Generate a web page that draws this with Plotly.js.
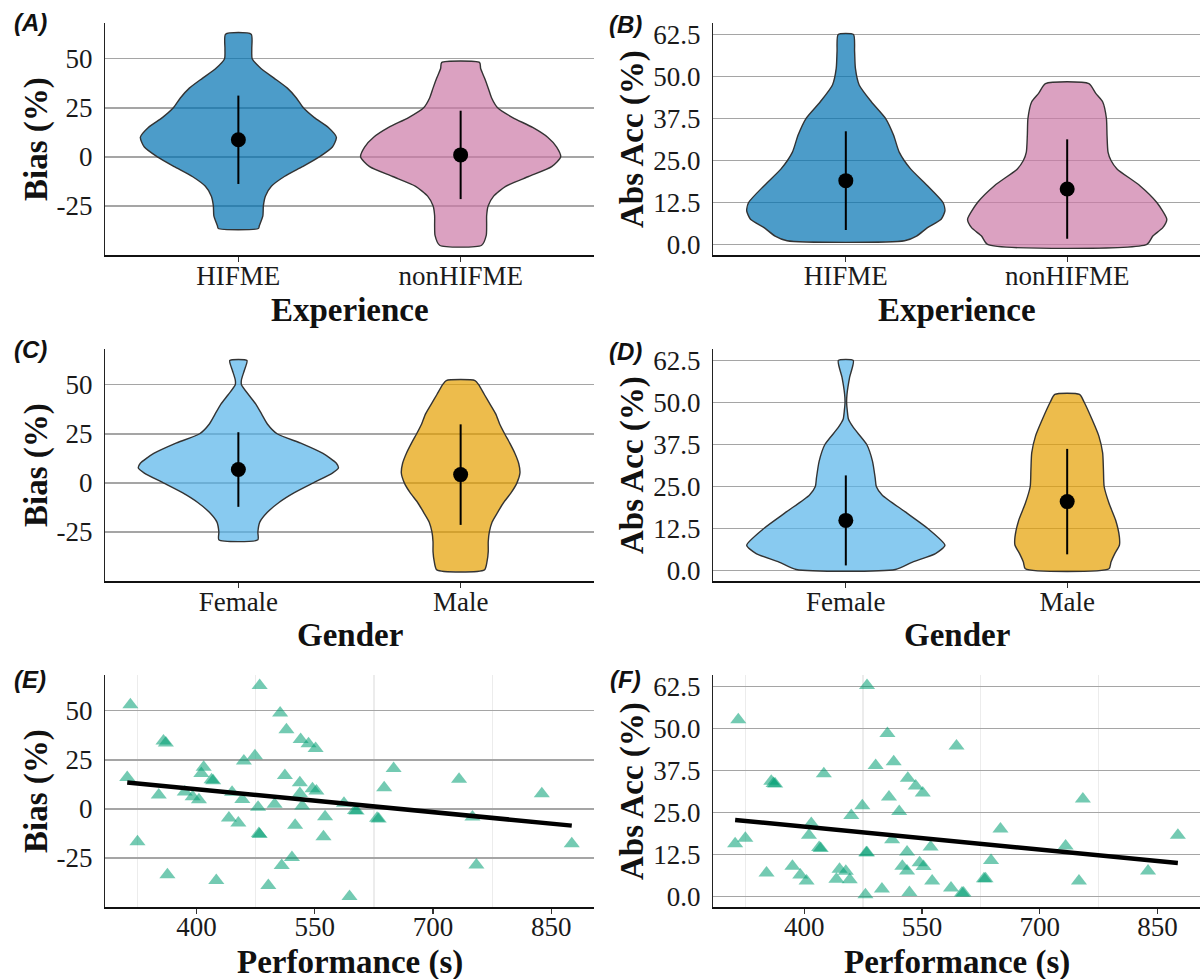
<!DOCTYPE html>
<html>
<head>
<meta charset="utf-8">
<script src="https://cdn.plot.ly/plotly-3.0.1.min.js"></script>
<style>
  html, body { margin: 0; padding: 0; background: #ffffff; }
  #chart { width: 1200px; height: 979px; }
</style>
</head>
<body>
<div id="chart"></div>
<script>
// ---- Categories ----
const experience = ['HIFME', 'nonHIFME'];
const gender = ['Female', 'Male'];

// ---- Per-participant values (panels E, F) ----
const perf = [316,312,325,352,358,361,363,385,395,403,
              406,409,419,421,425,441,445,453,458,460,
              474,478,479,480,480,491,499,506,508,512,
              514,521,525,531,531,532,534,542,547,552,
              551,561,563,587,594,601,603,629,631,638,
              650,733,750,755,838,876];
const bias = [53.0,16.0,-16.8,7.0,34.5,33.5,-33.5,8.6,6.2,4.6,
              18.0,21.2,14.8,14.3,-36.5,-4.6,8.4,-7.2,4.8,24.4,
              27.0,0.8,-12.6,-13.0,62.8,-39.0,2.3,48.8,-28.8,17.0,
              40.3,-24.8,-8.4,13.3,7.8,35.3,1.4,33.1,10.3,9.1,
              30.8,-14.2,-4.0,2.9,-44.6,-0.8,-1.1,-4.8,-5.2,10.8,
              20.5,15.1,-4.2,-28.6,7.7,-17.8];
const absAcc = [52.6,15.7,17.3,7.0,34.3,33.6,33.5,9.0,6.4,4.6,
                18.2,21.7,14.6,14.3,36.5,5.1,8.1,7.5,5.0,24.1,
                27.0,0.5,13.0,13.0,62.8,39.0,2.2,48.5,29.6,16.9,
                40.1,25.3,9.0,13.2,7.6,35.2,1.2,32.9,10.0,8.9,
                30.8,14.7,4.6,2.5,44.8,1.0,1.0,5.3,5.3,10.7,
                20.1,15.0,4.6,29.0,7.6,18.2];

// ---- Violin density profiles (value level -> relative density) ----
const hifmeBiasY    = [-36.5,-35,-30,-25,-20,-15,-10,-5,0,5,10,15,20,25,30,35,40,45,50,55,62.5];
const hifmeBiasDens = [20,21,24.5,25,27,33,46,64,81,94,98,90,76,65,58,49,36,22.6,13.8,13.4,12.8];
const nonBiasY      = [-45,-40,-35,-30,-25,-20,-15,-10,-5,0,5,10,15,20,25,30,35,40,45,48];
const nonBiasDens   = [21,25.6,26,26,27.5,33,45,68,91,100,96,87,72,52,37,31,27.6,24,20,19];

const hifmeAbsY     = [1.1,2.5,5,7.5,10,12.5,17.5,22.5,27.5,32.5,37.5,42.5,47.5,52.5,57.5,62.5];
const hifmeAbsDens  = [59,71,82,95.7,99.5,97.6,82,65,53.6,48,40,25.6,13.4,9.6,8.8,7.7];
const nonAbsY       = [0,2.5,5,7.5,12.5,17.5,22.5,25,27.5,32.5,37.5,42.5,45,47.9];
const nonAbsDens    = [80,86,96,100,90,73,50,44,41,40,39.4,35.6,28.7,21.8];

const femaleBiasY    = [-29,-25,-20,-15,-10,-5,0,5,7.5,10,15,20,25,30,35,40,45,50,52.5,57.5,62.3];
const femaleBiasDens = [19.5,19.5,21.4,29,40.6,56,75,94,100,98,84.6,63.5,38.7,29,23.3,17.6,10,3.1,3.1,6.1,8.6];
const maleBiasY      = [-44.3,-40,-35,-30,-25,-20,-15,-10,-5,0,5,10,15,20,25,30,35,40,45,50,52.1];
const maleBiasDens   = [23.8,26.4,27.6,27.6,28.7,31.4,37,43,50.5,56.3,59.3,58,54.3,49.4,44,39,35.2,29.5,23.7,18,14.4];

const femaleAbsY     = [0.3,2.5,5,7.5,12.5,17.5,22.5,25,27.5,32.5,37.5,42.5,45,47.5,50,52.5,57.5,62.5];
const femaleAbsDens  = [49.8,67,90,99.5,82.3,59.3,36.4,30.6,29.5,26.8,21,7.7,2.7,1.5,0.8,1.2,3.8,7.5];
const maleAbsY       = [0.5,2.5,5,7.5,10,15,20,25,30,35,40,45,50,52.4];
const maleAbsDens    = [42,44,47.8,52.4,52.4,48.6,42,37.1,36.4,35.6,31.8,24.9,17.2,12.4];

// ---- Group means and standard deviations ----
const biasExpMean = [8.7, 1.0];   const biasExpSd = [22.5, 22.5];
const absExpMean  = [19.0, 16.5]; const absExpSd  = [14.7, 14.8];
const biasGenMean = [6.8, 4.2];   const biasGenSd = [19.0, 25.6];
const absGenMean  = [14.9, 20.5]; const absGenSd  = [13.4, 15.7];

// ---- Tick labels ----
const biasTicks = [-25, 0, 25, 50];
const biasTickText = ['-25', '0', '25', '50'];
const absTicks = [0, 12.5, 25, 37.5, 50, 62.5];
const absTickText = ['0.0', '12.5', '25.0', '37.5', '50.0', '62.5'];
const perfTicks = [400, 550, 700, 850];

// ---- Styling ----
const W = 1200, H = 979;
const serif = 'Liberation Serif, Times New Roman, serif';
const sans = 'Liberation Sans, Arial, sans-serif';
const okabe = {
  blue: 'rgba(0,114,178,0.7)',
  purple: 'rgba(204,121,167,0.7)',
  sky: 'rgba(86,180,233,0.7)',
  orange: 'rgba(230,159,0,0.7)'
};
const pointColor = 'rgba(0,158,115,0.55)';
const densToWidth = 0.0045;   // category units per density unit

const px = v => v / W;
const py = v => 1 - v / H;

const colL = [px(105), px(594)];
const colR = [px(713), 1];
const rows = [[py(255), py(23)], [py(581), py(349)], [py(907), py(675)]];

function violin(center, ys, dens, fill, xa, ya) {
  const xs = [], yy = [];
  for (let i = 0; i < ys.length; i++) { xs.push(center + dens[i] * densToWidth); yy.push(ys[i]); }
  for (let i = ys.length - 1; i >= 0; i--) { xs.push(center - dens[i] * densToWidth); yy.push(ys[i]); }
  xs.push(xs[0]); yy.push(yy[0]);
  return {
    type: 'scatter', mode: 'lines', x: xs, y: yy, xaxis: xa, yaxis: ya,
    fill: 'toself', fillcolor: fill,
    line: { color: '#333333', width: 1.4, shape: 'spline', smoothing: 0.6 },
    hoverinfo: 'skip', showlegend: false
  };
}

function meanSd(means, sds, xa, ya) {
  return {
    type: 'scatter', mode: 'markers', x: [1, 2], y: means, xaxis: xa, yaxis: ya,
    marker: { color: 'black', size: 15 },
    error_y: { type: 'data', array: sds, visible: true, color: 'black', thickness: 2, width: 0 },
    showlegend: false
  };
}

function fitLine(xs, ys, xa, ya) {
  const n = xs.length;
  const mx = xs.reduce((a, b) => a + b, 0) / n;
  const my = ys.reduce((a, b) => a + b, 0) / n;
  let sxy = 0, sxx = 0;
  for (let i = 0; i < n; i++) { sxy += (xs[i] - mx) * (ys[i] - my); sxx += (xs[i] - mx) ** 2; }
  const b = sxy / sxx, a = my - b * mx;
  const x0 = Math.min(...xs), x1 = Math.max(...xs);
  return {
    type: 'scatter', mode: 'lines', x: [x0, x1], y: [a + b * x0, a + b * x1],
    xaxis: xa, yaxis: ya, line: { color: 'black', width: 4.5 }, showlegend: false
  };
}

function scatterPts(xs, ys, xa, ya) {
  return {
    type: 'scatter', mode: 'markers', x: xs, y: ys, xaxis: xa, yaxis: ya,
    marker: { symbol: 'triangle-up', size: 14, color: pointColor, line: { width: 0 } },
    showlegend: false
  };
}

const traces = [
  // (A)
  violin(1, hifmeBiasY, hifmeBiasDens, okabe.blue, 'x', 'y'),
  violin(2, nonBiasY, nonBiasDens, okabe.purple, 'x', 'y'),
  meanSd(biasExpMean, biasExpSd, 'x', 'y'),
  // (B)
  violin(1, hifmeAbsY, hifmeAbsDens, okabe.blue, 'x2', 'y2'),
  violin(2, nonAbsY, nonAbsDens, okabe.purple, 'x2', 'y2'),
  meanSd(absExpMean, absExpSd, 'x2', 'y2'),
  // (C)
  violin(1, femaleBiasY, femaleBiasDens, okabe.sky, 'x3', 'y3'),
  violin(2, maleBiasY, maleBiasDens, okabe.orange, 'x3', 'y3'),
  meanSd(biasGenMean, biasGenSd, 'x3', 'y3'),
  // (D)
  violin(1, femaleAbsY, femaleAbsDens, okabe.sky, 'x4', 'y4'),
  violin(2, maleAbsY, maleAbsDens, okabe.orange, 'x4', 'y4'),
  meanSd(absGenMean, absGenSd, 'x4', 'y4'),
  // (E)
  scatterPts(perf, bias, 'x5', 'y5'),
  fitLine(perf, bias, 'x5', 'y5'),
  // (F)
  scatterPts(perf, absAcc, 'x6', 'y6'),
  fitLine(perf, absAcc, 'x6', 'y6')
];

const tickFont = { family: serif, size: 27, color: '#1a1a1a' };

function catAxis(domain, anchor, labels) {
  return {
    domain: domain, anchor: anchor, type: 'linear', range: [0.4, 2.6],
    tickvals: [1, 2], ticktext: labels, ticks: 'outside', ticklen: 5, tickwidth: 1.2,
    tickcolor: '#333333', showline: true, linecolor: '#111111', linewidth: 2,
    showgrid: false, zeroline: false, tickfont: tickFont, ticklabelstandoff: -9
  };
}

function perfAxis(domain, anchor) {
  return {
    domain: domain, anchor: anchor, type: 'linear', range: [283.8, 904.2],
    tickvals: perfTicks, ticktext: perfTicks.map(String), ticks: 'outside', ticklen: 5, tickwidth: 1.2,
    tickcolor: '#333333', showline: true, linecolor: '#111111', linewidth: 2,
    showgrid: false, zeroline: false, tickfont: tickFont, ticklabelstandoff: -10,
    minor: { tick0: 325, dtick: 150, showgrid: true, gridcolor: '#ececec', gridwidth: 1.2, ticks: '' }
  };
}

function valAxis(domain, anchor, range, vals, text) {
  return {
    domain: domain, anchor: anchor, range: range, tickvals: vals, ticktext: text,
    ticks: '', showline: true, linecolor: '#222222', linewidth: 1.2,
    showgrid: true, gridcolor: '#a5a5a5', gridwidth: 1.6, zeroline: false,
    tickfont: tickFont, ticklabelstandoff: 6
  };
}

const biasRange = [-49.97, 68.17];
const absRange = [-3.14, 65.94];

const layout = {
  width: W, height: H, margin: { l: 0, r: 0, t: 0, b: 0 },
  paper_bgcolor: '#ffffff', plot_bgcolor: '#ffffff', showlegend: false,
  xaxis:  catAxis(colL, 'y', experience),
  yaxis:  valAxis(rows[0], 'x', biasRange, biasTicks, biasTickText),
  xaxis2: catAxis(colR, 'y2', experience),
  yaxis2: valAxis(rows[0], 'x2', absRange, absTicks, absTickText),
  xaxis3: catAxis(colL, 'y3', gender),
  yaxis3: valAxis(rows[1], 'x3', biasRange, biasTicks, biasTickText),
  xaxis4: catAxis(colR, 'y4', gender),
  yaxis4: valAxis(rows[1], 'x4', absRange, absTicks, absTickText),
  xaxis5: perfAxis(colL, 'y5'),
  yaxis5: valAxis(rows[2], 'x5', biasRange, biasTicks, biasTickText),
  xaxis6: perfAxis(colR, 'y6'),
  yaxis6: valAxis(rows[2], 'x6', absRange, absTicks, absTickText),
  annotations: []
};

const titleFont = { family: serif, size: 33, color: '#111111' };
const ann = layout.annotations;
function txt(text, x, y, font, angle) {
  ann.push({ text: text, x: px(x), y: py(y), xref: 'paper', yref: 'paper',
             xanchor: 'center', yanchor: 'middle', showarrow: false,
             font: font, textangle: angle || 0 });
}

// Axis titles
const yTitleRows = [139, 465, 791];
const xTitleRows = [310, 635, 962];
const leftCenter = (105 + 594) / 2, rightCenter = (713 + 1200) / 2;
txt('<b>Bias (%)</b>', 36, yTitleRows[0], titleFont, -90);
txt('<b>Abs Acc (%)</b>', 632, yTitleRows[0], titleFont, -90);
txt('<b>Bias (%)</b>', 36, yTitleRows[1], titleFont, -90);
txt('<b>Abs Acc (%)</b>', 632, yTitleRows[1], titleFont, -90);
txt('<b>Bias (%)</b>', 36, yTitleRows[2], titleFont, -90);
txt('<b>Abs Acc (%)</b>', 632, yTitleRows[2], titleFont, -90);
txt('<b>Experience</b>', leftCenter, xTitleRows[0], titleFont);
txt('<b>Experience</b>', rightCenter, xTitleRows[0], titleFont);
txt('<b>Gender</b>', leftCenter, xTitleRows[1], titleFont);
txt('<b>Gender</b>', rightCenter, xTitleRows[1], titleFont);
txt('<b>Performance (s)</b>', leftCenter, xTitleRows[2], titleFont);
txt('<b>Performance (s)</b>', rightCenter, xTitleRows[2], titleFont);

// Panel tags
const tagFont = { family: sans, size: 24, color: '#111111' };
txt('<b><i>(A)</i></b>', 30, 22, tagFont);
txt('<b><i>(B)</i></b>', 625, 24, tagFont);
txt('<b><i>(C)</i></b>', 30, 350, tagFont);
txt('<b><i>(D)</i></b>', 625, 351, tagFont);
txt('<b><i>(E)</i></b>', 30, 679, tagFont);
txt('<b><i>(F)</i></b>', 625, 679, tagFont);

Plotly.newPlot('chart', traces, layout, { staticPlot: true, displayModeBar: false });
</script>
</body>
</html>
